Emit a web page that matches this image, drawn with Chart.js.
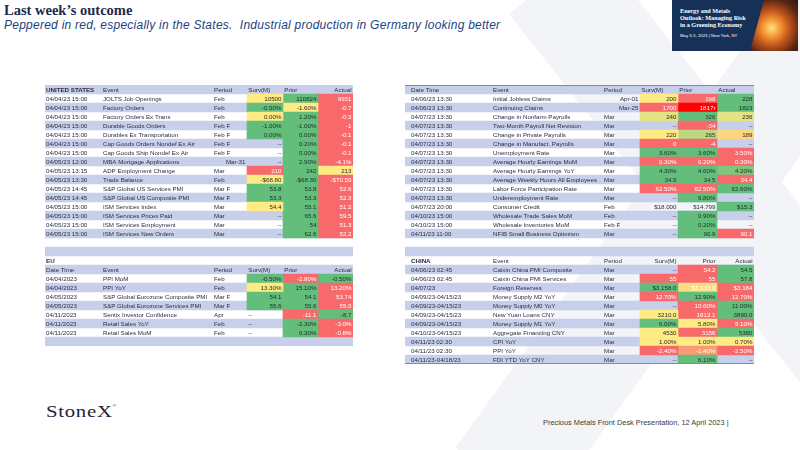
<!DOCTYPE html>
<html><head><meta charset="utf-8">
<script src="https://cdn.jsdelivr.net/npm/chart.js@4.4.1/dist/chart.umd.min.js"></script>
<style>
html,body{margin:0;padding:0;background:#fff;}
body{width:800px;height:450px;position:relative;overflow:hidden;font-family:"Liberation Sans",Arial,sans-serif;}
svg.wm{position:absolute;left:0;top:0;}
.tbl{position:absolute;}
.tbl canvas{display:block;}
#title{position:absolute;left:4px;top:2px;font:bold 14.5px "Liberation Serif",serif;color:#1f2a4d;white-space:nowrap;}
#sub{position:absolute;left:4px;top:18px;font:italic 12px "Liberation Sans",sans-serif;letter-spacing:0.25px;color:#243f80;white-space:nowrap;}
#banner{position:absolute;left:672px;top:0;width:126px;height:51px;background:#173058;overflow:hidden;}
#photo{position:absolute;left:78px;top:0;width:48px;height:51px;background:radial-gradient(circle at 45% 55%,#ffe08a 0%,#f59a35 22%,#c4561c 45%,#5a2514 75%,#2a1610 100%);clip-path:polygon(14px 0,100% 0,100% 100%,0 100%);}
.btxt{position:absolute;left:8px;top:8px;color:#fff;font:bold 6.2px "Liberation Serif",serif;line-height:6.8px;white-space:nowrap;}
.bdate{position:absolute;left:8px;top:32.5px;color:#fff;font:4.3px "Liberation Sans",sans-serif;white-space:nowrap;}
#logo{position:absolute;left:46px;top:402px;font:17px "Liberation Serif",serif;color:#1d2340;letter-spacing:0.6px;transform:scaleX(1.22);transform-origin:left top;white-space:nowrap;}
#logo sup{font-size:4px;vertical-align:10px;}
#foot{position:absolute;left:543px;top:418px;font:7.4px "Liberation Sans",sans-serif;color:#3a3a3a;white-space:nowrap;}
</style>
</head>
<body>
<svg class="wm" width="800" height="450">
  <line x1="552" y1="-20" x2="900" y2="420" stroke="#f3f4f7" stroke-width="110"/>
  <line x1="830" y1="20" x2="500" y2="480" stroke="#f3f4f7" stroke-width="110"/>
</svg>
<div id="title">Last week’s outcome</div>
<div id="sub">Peppered in red, especially in the States.&nbsp; Industrial production in Germany looking better</div>
<div id="banner">
  <div id="photo"></div>
  <div class="btxt">Energy and Metals<br>Outlook: Managing Risk<br>in a Greening Economy</div>
  <div class="bdate">May 3-5, 2023 | New York, NY</div>
</div>
<div class="tbl" style="left:45px;top:85px;"><canvas id="left" width="308" height="261"></canvas></div>
<div class="tbl" style="left:405px;top:85px;"><canvas id="right" width="349" height="279"></canvas></div>
<div id="logo">StoneX<sup>®</sup></div>
<div id="foot">Precious Metals Front Desk Presentation, 12 April 2023 |</div>
<script>
// ---------- DATA ----------
const usHeader = ['UNITED STATES','Event','Period','Surv(M)','Prior','Actual'];
const usDate = ['04/04/23 15:00','04/04/23 15:00','04/04/23 15:00','04/04/23 15:00','04/04/23 15:00','04/04/23 15:00','04/04/23 15:00','04/05/23 12:00','04/05/23 13:15','04/05/23 13:30','04/05/23 14:45','04/05/23 14:45','04/05/23 15:00','04/05/23 15:00','04/05/23 15:00','04/05/23 15:00'];
const usEvent = ['JOLTS Job Openings','Factory Orders','Factory Orders Ex Trans','Durable Goods Orders','Durables Ex Transportation','Cap Goods Orders Nondef Ex Air','Cap Goods Ship Nondef Ex Air','MBA Mortgage Applications','ADP Employment Change','Trade Balance','S&P Global US Services PMI','S&P Global US Composite PMI','ISM Services Index','ISM Services Prices Paid','ISM Services Employment','ISM Services New Orders'];
const usPeriod = ['Feb','Feb','Feb','Feb F','Feb F','Feb F','Feb F','Mar-31','Mar','Feb','Mar F','Mar F','Mar','Mar','Mar','Mar'];
const usSurv = ['10500','-0.50%','0.00%','-1.00%','0.00%','--','--','--','210','-$68.80','53.8','53.3','54.4','--','--','--'];
const usPrior = ['110824','-1.60%','1.20%','-1.00%','0.00%','0.20%','0.00%','2.90%','242','-$68.30','53.8','53.3','55.1','65.6','54','62.6'];
const usActual = ['9931','-0.7','-0.3','-1','-0.1','-0.1','-0.1','-4.1%','213','-$70.50','52.6','52.3','51.2','59.5','51.3','52.2'];
const usSurvTone = ['Y','G','Y','G','G','','','','R','Y','G','G','Y','','',''];
const usPriorTone = ['G','Y','G','G','G','G','G','G','G','G','G','G','G','G','G','G'];
const usActualTone = ['R','R','R','R','R','R','R','R','Y','R','R','R','R','R','R','R'];

const us2Header = ['Date Time','Event','Period','Surv(M)','Prior','Actual'];
const us2Date = ['04/06/23 13:30','04/06/23 13:30','04/07/23 13:30','04/07/23 13:30','04/07/23 13:30','04/07/23 13:30','04/07/23 13:30','04/07/23 13:30','04/07/23 13:30','04/07/23 13:30','04/07/23 13:30','04/07/23 13:30','04/07/23 20:00','04/10/23 15:00','04/10/23 15:00','04/11/23 11:00'];
const us2Event = ['Initial Jobless Claims','Continuing Claims','Change in Nonfarm Payrolls','Two-Month Payroll Net Revision','Change in Private Payrolls','Change in Manufact. Payrolls','Unemployment Rate','Average Hourly Earnings MoM','Average Hourly Earnings YoY','Average Weekly Hours All Employees','Labor Force Participation Rate','Underemployment Rate','Consumer Credit','Wholesale Trade Sales MoM','Wholesale Inventories MoM','NFIB Small Business Optimism'];
const us2Period = ['Apr-01','Mar-25','Mar','Mar','Mar','Mar','Mar','Mar','Mar','Mar','Mar','Mar','Feb','Feb','Feb F','Mar'];
const us2Surv = ['200','1700','240','--','220','0','3.60%','0.30%','4.30%','34.5','62.50%','--','$18.000','--','--','--'];
const us2Prior = ['198','1817r','326','-34','265','-4','3.60%','0.20%','4.60%','34.5','62.50%','6.80%','$14.799','0.90%','0.20%','90.9'];
const us2Actual = ['228','1823','236','--','189','--','3.50%','0.30%','4.20%','34.4','62.60%','--','$15.3','--','--','90.1'];
const us2SurvTone = ['Y','R','YG','','Y','R','G','R','G','G','R','','','','',''];
const us2PriorTone = ['R','RR','G','R','LG','R','G','R','G','G','R','G','','G','G','G'];
const us2ActualTone = ['G','G','YG','','O','','R','R','G2','R','G','','G','','','R'];

const euTitle = 'EU';
const euHeader = ['Date Time','Event','Period','Surv(M)','Prior','Actual'];
const euDate = ['04/04/2023','04/04/2023','04/05/2023','04/05/2023','04/11/2023','04/11/2023','04/11/2023'];
const euEvent = ['PPI MoM','PPI YoY','S&P Global Eurozone Composite PMI','S&P Global Eurozone Services PMI','Sentix Investor Confidence','Retail Sales YoY','Retail Sales MoM'];
const euPeriod = ['Feb','Feb','Mar F','Mar F','Apr','Feb','Feb'];
const euSurv = ['-0.50%','13.30%','54.1','55.6','--','--','--'];
const euPrior = ['-2.80%','15.10%','54.1','55.6','-11.1','-2.30%','0.30%'];
const euActual = ['-0.50%','13.20%','53.74','55.0','-8.7','-3.0%','-0.8%'];
const euSurvTone = ['G','Y','G','G','','',''];
const euPriorTone = ['R','G','G','G','R','G','G'];
const euActualTone = ['G','R','R','R','G','R','R'];

const cnHeader = ['CHINA','Event','Period','Surv(M)','Prior','Actual'];
const cnDate = ['04/06/23 02:45','04/06/23 02:45','04/07/23','04/09/23-04/15/23','04/09/23-04/15/23','04/09/23-04/15/23','04/09/23-04/15/23','04/10/23-04/15/23','04/11/23 02:30','04/11/23 02:30','04/11/23-04/18/23'];
const cnEvent = ['Caixin China PMI Composite','Caixin China PMI Services','Foreign Reserves','Money Supply M2 YoY','Money Supply M0 YoY','New Yuan Loans CNY','Money Supply M1 YoY','Aggregate Financing CNY','CPI YoY','PPI YoY','FDI YTD YoY CNY'];
const cnPeriod = ['Mar','Mar','Mar','Mar','Mar','Mar','Mar','Mar','Mar','Mar','Mar'];
const cnSurv = ['--','55','$3,158.0','12.70%','--','3210.0','6.00%','4530','1.00%','-2.40%','--'];
const cnPrior = ['54.2','55','$3,133.0','12.90%','10.60%','1812.1','5.80%','3156','1.00%','-1.40%','6.10%'];
const cnActual = ['54.5','57.8','$3.184','12.70%','11.00%','3890.0','5.10%','5380','0.70%','-2.50%','--'];
const cnSurvTone = ['','R','G','R','','Y','G','Y','Y','R',''];
const cnPriorTone = ['R','R','OW','G','R','R','Y','R','Y','OR','G'];
const cnActualTone = ['G','G','R','R','G','G','R','G','Y','R',''];

// ---------- STYLE ----------
const STRIPE = '#c8cfea';
const TXT = '#2a2e3e';
const FS = 6.2;
const TONES = {
  G:{bg:'#63be7b',fg:'#1f2a2a'}, G2:{bg:'#7dc67c',fg:'#1f2a2a'},
  R:{bg:'#f8696b',fg:'#ffffff'}, RR:{bg:'#ff0000',fg:'#ffffff'},
  Y:{bg:'#ffeb84',fg:'#2a2a2a'}, YG:{bg:'#e4e383',fg:'#2a2a2a'},
  LG:{bg:'#bcd881',fg:'#2a2a2a'}, O:{bg:'#fed580',fg:'#2a2a2a'},
  OW:{bg:'#fcdc82',fg:'#ffffff'}, OR:{bg:'#fa9a74',fg:'#ffffff'}
};
const leftCols = {date:1, event:58, period:169, surv:202, prior:238, actual:273, end:308};
const rightCols = {date:6, event:88, period:199, surv:235, prior:273, actual:312, end:349};

// ---------- ROWS ----------
function dataRows(d,e,p,s,pr,a,st,pt,at,dashAlign){
  return d.map((_,i)=>({kind:'data',cells:[d[i],e[i],p[i],s[i],pr[i],a[i]],tones:[st[i],pt[i],at[i]],dashAlign}));
}
const headerRow = (h,align,bold,line)=>({kind:'header',cells:h,align,bold,line});
const titleRow = t=>({kind:'title',cells:[t],bold:true});
const blank = ()=>({kind:'blank'});

const leftRows = [
  headerRow(usHeader,['l','l','r'],true,false),
  ...dataRows(usDate,usEvent,usPeriod,usSurv,usPrior,usActual,usSurvTone,usPriorTone,usActualTone,'r'),
  blank(), blank(), titleRow(euTitle),
  headerRow(euHeader,['l','l','r'],false,false),
  ...dataRows(euDate,euEvent,euPeriod,euSurv,euPrior,euActual,euSurvTone,euPriorTone,euActualTone,'l'),
  blank()
];
const rightRows = [
  headerRow(us2Header,['l','l','l'],false,true),
  ...dataRows(us2Date,us2Event,us2Period,us2Surv,us2Prior,us2Actual,us2SurvTone,us2PriorTone,us2ActualTone,'r'),
  blank(), blank(),
  headerRow(cnHeader,['r','r','r'],true,false),
  ...dataRows(cnDate,cnEvent,cnPeriod,cnSurv,cnPrior,cnActual,cnSurvTone,cnPriorTone,cnActualTone,'r')
];

// ---------- CHART ----------
const EDGES = [['surv','prior'],['prior','actual'],['actual','end']];
function cellPlugin(rows, cols, bottomLine){
  return {id:'cellText', afterDatasetsDraw(chart){
    const ctx = chart.ctx, xs = chart.scales.x, ys = chart.scales.y;
    const X = v => xs.getPixelForValue(v);
    ctx.save();
    ctx.textBaseline = 'middle';
    const half = (ys.getPixelForValue(1) - ys.getPixelForValue(0))/2;
    rows.forEach((r,i)=>{
      if (r.kind==='blank') return;
      const cy = ys.getPixelForValue(i)+0.4;
      const put = (txt,x,align,color,bold)=>{
        ctx.font = (bold?'bold ':'') + FS + 'px "Liberation Sans", Arial, sans-serif';
        ctx.fillStyle = color; ctx.textAlign = align; ctx.fillText(txt,x,cy);
      };
      if (r.kind==='title'){ put(r.cells[0],X(cols.date),'left',TXT,r.bold); return; }
      if (r.kind==='header'){
        if (r.line){ ctx.fillStyle='#7c88b8'; ctx.fillRect(X(0), ys.getPixelForValue(i)-half, X(cols.end)-X(0), 1); }
        put(r.cells[0],X(cols.date),'left',TXT,r.bold);
        put(r.cells[1],X(cols.event),'left',TXT);
        put(r.cells[2],X(cols.period),'left',TXT);
        r.align.forEach((al,k)=>{
          const a = cols[EDGES[k][0]], b = cols[EDGES[k][1]];
          if (al==='l') put(r.cells[3+k],X(a)+1.3,'left',TXT); else put(r.cells[3+k],X(b)-1.5,'right',TXT);
        });
        return;
      }
      put(r.cells[0],X(cols.date),'left',TXT);
      put(r.cells[1],X(cols.event),'left',TXT);
      const per = r.cells[2];
      if (/-\d\d$/.test(per)) put(per,X(cols.surv)-1.5,'right',TXT); else put(per,X(cols.period),'left',TXT);
      EDGES.forEach(([a,b],k)=>{
        const v = r.cells[3+k], t = r.tones[k];
        const col = t ? TONES[t].fg : TXT;
        if (v==='--' && r.dashAlign==='l') put(v,X(cols[a])+1.3,'left',col);
        else put(v,X(cols[b])-1.5,'right',col);
      });
    });
    if (bottomLine){
      const yb = ys.getPixelForValue(rows.length-1)+half;
      ctx.fillStyle='#7c88b8'; ctx.fillRect(X(0), yb-1, X(cols.end)-X(0), 1);
    }
    ctx.restore();
  }};
}

function buildTable(id, rows, cols, bottomLine){
  const W = cols.end;
  const common = {barPercentage:1, categoryPercentage:1, grouped:false, borderWidth:0, borderSkipped:false};
  const datasets = [{label:'stripe', order:5, data: rows.map((_,i)=> i%2===0 ? [0,W] : null), backgroundColor: STRIPE, ...common}];
  EDGES.forEach(([a,b],k)=>{
    datasets.push({
      label:'col'+k, order:0,
      data: rows.map(r=> r.tones && r.tones[k] ? [cols[a],cols[b]] : null),
      backgroundColor: rows.map(r=> r.tones && r.tones[k] ? TONES[r.tones[k]].bg : 'rgba(0,0,0,0)'),
      ...common
    });
  });
  return new Chart(document.getElementById(id), {
    type:'bar',
    data:{labels: rows.map((_,i)=>'r'+i), datasets},
    options:{
      indexAxis:'y', responsive:false, animation:false, events:[],
      layout:{padding:0},
      plugins:{legend:{display:false}, tooltip:{enabled:false}},
      scales:{
        x:{type:'linear', min:0, max:W, display:false},
        y:{display:false}
      }
    },
    plugins:[cellPlugin(rows, cols, bottomLine)]
  });
}
buildTable('left', leftRows, leftCols, false);
buildTable('right', rightRows, rightCols, true);
</script>
</body></html>
